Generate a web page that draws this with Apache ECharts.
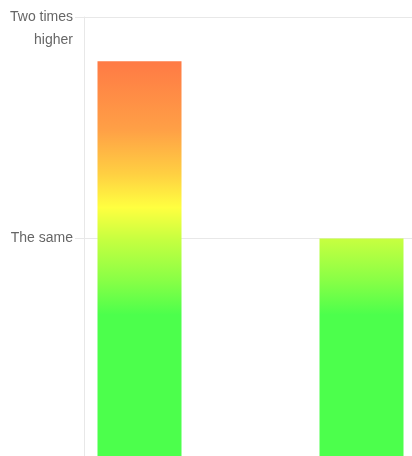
<!DOCTYPE html>
<html>
<head>
<meta charset="utf-8">
<script src="https://cdn.jsdelivr.net/npm/echarts@6/dist/echarts.min.js"></script>
<style>
  html, body { margin: 0; padding: 0; background: #ffffff; }
  #chart { width: 412px; height: 456px; }
</style>
</head>
<body>
<div id="chart"></div>
<script>
// Category slots along the x axis (empty slots keep the spacing between groups)
const categories = ['Group 1', '', 'Group 2', ''];
// Relative level of each bar: 1 = the same, 2 = two times higher
const barValues = [1.8, null, 1, null];
// Y axis tick labels by tick value
const tickLabels = { 1: 'The same', 2: '\nTwo times\nhigher' };
// Colour ramp along the value scale (value -> colour)
const rampValues = [1.8, 1.49, 1.29, 1.14, 0.99, 0.81, 0.655];
const rampColors = ['#ff7a45', '#ffa046', '#ffd042', '#ffff40', '#c4ff40', '#88ff46', '#4cff4c'];

const gridColor = '#e8e8e8';
const chart = echarts.init(document.getElementById('chart'), null, { renderer: 'canvas' });

const option = {
  animation: false,
  backgroundColor: '#ffffff',
  grid: { left: 84, top: 17, right: -116, bottom: -4, outerBoundsMode: 'none', containLabel: false },
  xAxis: {
    type: 'category',
    data: categories,
    axisLine: { show: false },
    axisTick: { show: false },
    axisLabel: { show: false },
    splitLine: { show: false }
  },
  yAxis: {
    type: 'value',
    min: 0,
    max: 2,
    interval: 1,
    axisLine: { show: true, lineStyle: { color: gridColor, width: 1 } },
    axisTick: { show: true, length: 9, lineStyle: { color: gridColor, width: 1 } },
    splitLine: { show: true, lineStyle: { color: gridColor, width: 1 } },
    axisLabel: {
      margin: 11,
      color: '#666666',
      fontFamily: 'Liberation Sans, Arial, sans-serif',
      fontSize: 14,
      lineHeight: 23,
      align: 'right',
      formatter: v => tickLabels[v] || ''
    }
  },
  series: [{
    type: 'bar',
    data: barValues,
    barWidth: 84,
    itemStyle: { color: '#4cff4c' }
  }]
};
chart.setOption(option);

// Paint the bars with one shared vertical ramp laid out on the value axis
const yPix = rampValues.map(v => chart.convertToPixel({ yAxisIndex: 0 }, v));
const y0 = yPix[0], y1 = yPix[yPix.length - 1];
const stops = rampColors.map((c, i) => ({ offset: (yPix[i] - y0) / (y1 - y0), color: c }));
chart.setOption({
  series: [{
    itemStyle: { color: new echarts.graphic.LinearGradient(0, y0, 0, y1, stops, true) }
  }]
});
</script>
</body>
</html>
